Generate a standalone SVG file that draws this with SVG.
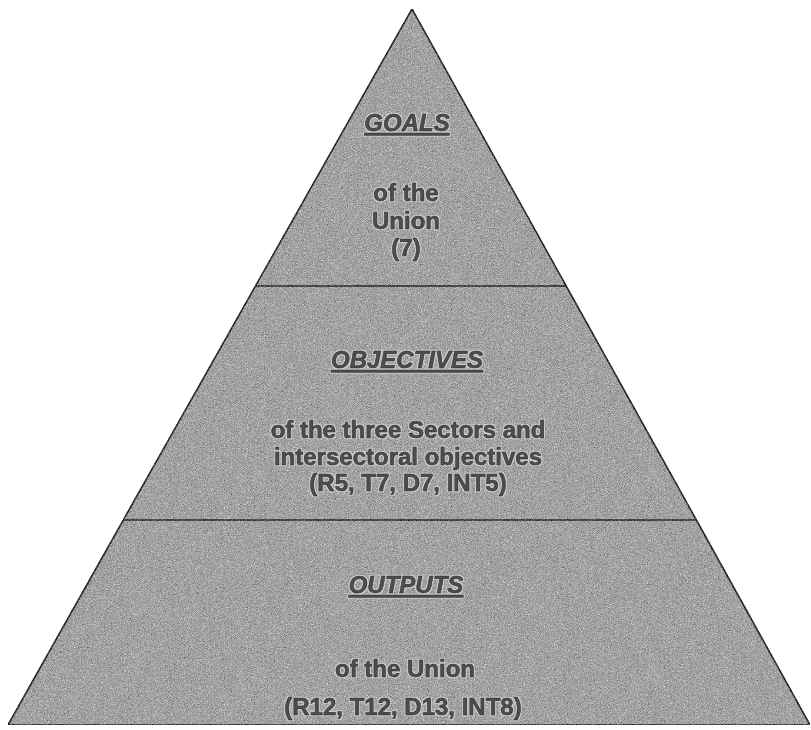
<svg xmlns="http://www.w3.org/2000/svg" width="811" height="730" viewBox="0 0 811 730">
  <style>
    .tier { fill: #a3a3a3; stroke: #2e2e2e; stroke-width: 1.6; stroke-linejoin: miter; filter: url(#grain); }
    .txt { font-family: "Liberation Sans", Arial, sans-serif; font-weight: bold; font-size: 24px; fill: #4d4d4d; stroke: #2a2a2a; stroke-width: 0.5; text-anchor: middle; filter: url(#halo); }
    .head { font-style: italic; text-decoration: underline; }
  </style>
  <defs>
    <filter id="grain" x="0" y="0" width="100%" height="100%" color-interpolation-filters="sRGB">
      <feTurbulence type="fractalNoise" baseFrequency="1.3" numOctaves="1" seed="7" result="n"/>
      <feColorMatrix in="n" type="matrix" values="0.33 0.33 0.33 0 0  0.33 0.33 0.33 0 0  0.33 0.33 0.33 0 0  0 0 0 0 1" result="g"/>
      <feComposite in="SourceGraphic" in2="g" operator="arithmetic" k1="0" k2="1" k3="1.1" k4="-0.55" result="m"/>
      <feComposite in="m" in2="SourceGraphic" operator="in"/>
    </filter>
    <filter id="halo" x="-10%" y="-30%" width="120%" height="160%" color-interpolation-filters="sRGB">
      <feMorphology in="SourceAlpha" operator="dilate" radius="1.2" result="d"/>
      <feFlood flood-color="#d4d4d4" flood-opacity="0.85"/>
      <feComposite in2="d" operator="in" result="h"/>
      <feMerge>
        <feMergeNode in="h"/>
        <feMergeNode in="SourceGraphic"/>
      </feMerge>
    </filter>
  </defs>

  <g id="tier-goals">
    <polygon class="tier" points="412,9 566.2,286 255.5,286"/>
    <text class="txt head" x="407" y="131">GOALS</text>
    <text class="txt" x="406" y="201">of the</text>
    <text class="txt" x="406" y="229">Union</text>
    <text class="txt" x="406" y="256">(7)</text>
  </g>

  <g id="tier-objectives">
    <polygon class="tier" points="255.5,286 566.2,286 696.4,520 123.3,520"/>
    <text class="txt head" x="407" y="368">OBJECTIVES</text>
    <text class="txt" x="408" y="438">of the three Sectors and</text>
    <text class="txt" x="408" y="465">intersectoral objectives</text>
    <text class="txt" x="408" y="491">(R5, T7, D7, INT5)</text>
  </g>

  <g id="tier-outputs">
    <polygon class="tier" points="123.3,520 696.4,520 810,725 8,725"/>
    <text class="txt head" x="406" y="593">OUTPUTS</text>
    <text class="txt" x="405" y="677">of the Union</text>
    <text class="txt" x="403" y="715">(R12, T12, D13, INT8)</text>
  </g>

  <g id="connectors"/>
</svg>
